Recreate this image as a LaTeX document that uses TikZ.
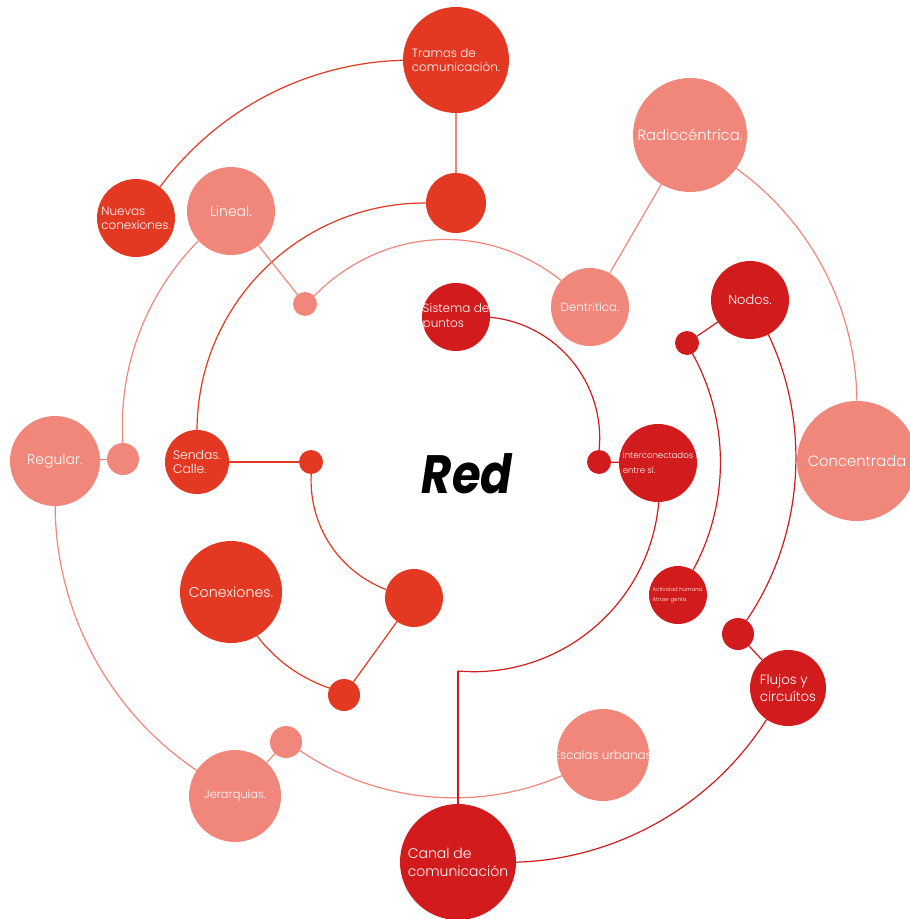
\documentclass[tikz,border=0pt]{standalone}
\usepackage{fontspec}
\setmainfont{Poppins}
\newfontfamily\thinfont{Poppins}[UprightFont=* Light]
\definecolor{orng}{RGB}{227,57,35}
\definecolor{salm}{RGB}{240,135,122}
\definecolor{crim}{RGB}{209,27,29}

\begin{document}
\begin{tikzpicture}[x=0.5pt, y=0.5pt,
  bub/.style={circle, inner sep=-4pt, outer sep=0pt, text=white, align=left, minimum size=#1},
  fillO/.style={bub=#1, fill=orng},
  fillS/.style={bub=#1, fill=salm},
  fillC/.style={bub=#1, fill=crim},
  fs/.style 2 args={font=\thinfont\fontsize{#1}{#2}\selectfont},
  lineO/.style={draw=orng, line width=0.6pt},
  lineS/.style={draw=salm, line width=0.6pt},
  lineC/.style={draw=crim, line width=0.6pt}]
  \useasboundingbox (0,0) rectangle (909,-919);

  \node[fillO=53pt, fs={6}{7}] (tramas) at (456,-60) {Tramas de\\comunicación.};
  \node[fillO=30pt] (tdot) at (456,-203) {};
  \node[fillO=39pt, fs={6}{7}] (nuevas) at (136,-218) {Nuevas\\conexiones.};
  \node[fillS=44pt, fs={7}{8}] (lineal) at (231,-211) {Lineal.};
  \node[fillS=12pt] (ldot) at (305,-304) {};
  \node[fillS=57pt, fs={7.4}{9}] (radio) at (690,-135) {Radiocéntrica.};
  \node[fillC=34pt, fs={6}{7.5}] (sistema) at (456,-317) {Sistema de\\puntos};
  \node[fillS=39pt, fs={5.9}{7.5}] (dentri) at (590,-307) {Dentritica.};
  \node[fillC=39pt, fs={6.5}{7.5}] (nodos) at (750,-300) {Nodos.};
  \node[fillC=12pt] (ndot) at (687,-343) {};
  \node[fillS=45pt, fs={7}{8}] (regular) at (55,-461) {Regular.};
  \node[fillS=16pt] (rdot) at (123,-459) {};
  \node[fillO=32pt, fs={6.2}{7}] (sendas) at (197,-462) {Sendas.\\Calle.};
  \node[fillO=12pt] (sdot) at (311,-462) {};
  \node[font=\fontsize{27}{30}\selectfont\bfseries\itshape, anchor=base] (red) at (467,-493) {\scalebox{0.86}[1]{Red}};
  \node[fillC=12pt] (pdot) at (599,-462) {};
  \node[fillC=39pt, fs={4.3}{7.5}] (inter) at (658,-463) {interconectados\\entre sí.};
  \node[fillS=60pt, fs={7.4}{9}] (concen) at (857,-461) {Concentrada};
  \node[fillO=51pt, fs={7.1}{8.5}] (conex) at (231,-592) {Conexiones.};
  \node[fillO=29pt] (mdot) at (414,-598) {};
  \node[fillC=29pt, fs={2.7}{5}] (activ) at (678,-595) {Actividad humana.\\Atraer gente.};
  \node[fillC=16pt] (fdot) at (738,-634) {};
  \node[fillC=38pt, fs={6.7}{8.5}] (flujos) at (788,-688) {Flujos y\\circuítos};
  \node[fillO=16pt] (bdot) at (344,-695) {};
  \node[fillS=16pt] (jdot) at (286,-742) {};
  \node[fillS=46pt, fs={5.7}{7}] (jerar) at (235,-796) {Jerarquias.};
  \node[fillS=46pt, fs={6}{7}] (escalas) at (603,-755) {Escalas urbanas};
  \node[fillC=58pt, fs={7}{9}] (canal) at (458,-862) {Canal de\\comunicación};
  \coordinate (ccorner) at (458,-671);

  % orange rings
  \path
    (tramas) edge[lineO, bend right=26, looseness=0.9] (nuevas)
    (tramas) edge[lineS, line width=1pt] (tdot)
    (tdot) edge[lineO, bend right=45] (sendas)
    (sendas) edge[lineO] (sdot)
    (sdot) edge[lineO, bend right=36, looseness=0.95] (mdot)
    (mdot) edge[lineO] (bdot)
    (bdot) edge[lineO, bend left=17, looseness=0.87] (conex);
  % salmon rings
  \path
    (lineal) edge[lineS] (ldot)
    (ldot) edge[lineS, bend left=42] (dentri)
    (dentri) edge[lineS] (radio)
    (radio) edge[lineS, bend left=27, looseness=0.9] (concen)
    (lineal) edge[lineS, bend right=24, looseness=0.9] (rdot)
    (regular) edge[lineS] (rdot)
    (regular) edge[lineS, bend right=28, looseness=0.9] (jerar)
    (jerar) edge[lineS] (jdot)
    (jdot) edge[lineS, bend right=29, looseness=0.9] (escalas);
  % crimson rings
  \path
    (sistema) edge[lineC, bend left=45] (pdot)
    (pdot) edge[lineC] (inter)
    (inter) edge[lineC, bend left=45] (ccorner)
    (ccorner) edge[lineC] (canal)
    (ndot) edge[lineC] (nodos)
    (ndot) edge[lineC, bend left=29, looseness=0.9] (activ)
    (nodos) edge[lineC, bend left=30, looseness=0.9] (fdot)
    (fdot) edge[lineC] (flujos)
    (flujos) edge[lineC, bend left=28, looseness=0.9] (canal);
\end{tikzpicture}
\end{document}
